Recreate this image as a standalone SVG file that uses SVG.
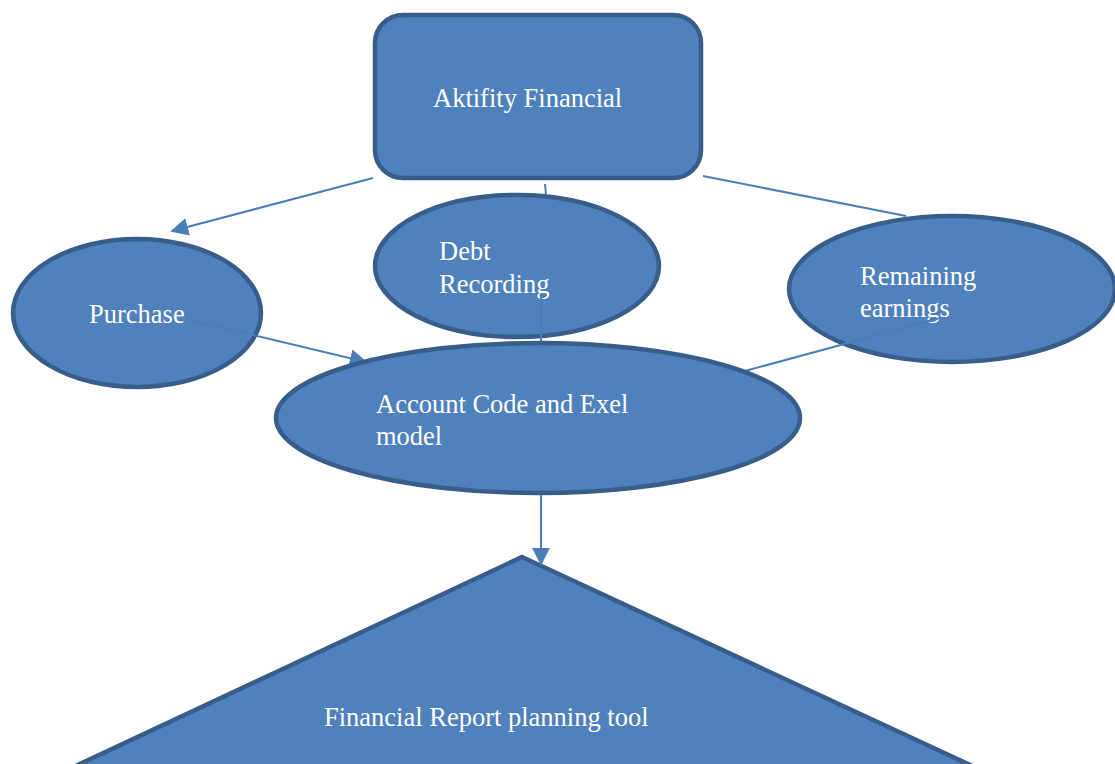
<svg xmlns="http://www.w3.org/2000/svg" width="1115" height="764" viewBox="0 0 1115 764">
  <style>
    .shape { fill: #4f81bd; stroke: #385d8a; stroke-width: 4.5; }
    .label { font-family: "Liberation Serif", "Times New Roman", serif; font-size: 26.5px; fill: #ffffff; }
    .link { stroke: #4a7ebb; stroke-width: 2; fill: none; }
  </style>
  <defs>
    <marker id="arrowL" viewBox="0 0 10 10" refX="9" refY="5" markerWidth="18" markerHeight="18" markerUnits="userSpaceOnUse" orient="auto">
      <path d="M0,0 L10,5 L0,10 z" fill="#4a7ebb"/>
    </marker>
  </defs>
  <rect width="1115" height="764" fill="#ffffff"/>

  <g id="node-report">
    <polygon class="shape" points="522,557 981,770 67,770"/>
    <text class="label" x="324" y="726">Financial Report planning tool</text>
  </g>

  <g id="node-purchase">
    <ellipse class="shape" cx="137" cy="313" rx="124" ry="74"/>
    <text class="label" x="89" y="323">Purchase</text>
  </g>

  <g id="node-remaining">
    <ellipse class="shape" cx="952" cy="289" rx="163" ry="73"/>
    <text class="label" x="860" y="285">Remaining</text>
    <text class="label" x="860" y="317">earnings</text>
  </g>

  <g id="node-debt">
    <ellipse class="shape" cx="517" cy="266" rx="142" ry="71"/>
    <text class="label" x="439" y="260">Debt</text>
    <text class="label" x="439" y="293">Recording</text>
  </g>

  <g id="connectors">
    <line class="link" x1="373" y1="178" x2="172" y2="231" marker-end="url(#arrowL)"/>
    <line class="link" x1="545" y1="184" x2="546" y2="195"/>
    <line class="link" x1="541" y1="297" x2="541" y2="343"/>
    <line class="link" x1="190" y1="320" x2="366" y2="362" marker-end="url(#arrowL)"/>
    <line class="link" x1="703" y1="176" x2="906" y2="216"/>
    <line class="link" x1="745" y1="371" x2="940" y2="318"/>
    <line class="link" x1="541" y1="488" x2="541" y2="564" marker-end="url(#arrowL)"/>
  </g>

  <g id="node-account">
    <ellipse class="shape" cx="538" cy="418" rx="262" ry="75"/>
    <text class="label" x="376" y="413">Account Code and Exel</text>
    <text class="label" x="376" y="445">model</text>
  </g>

  <g id="node-aktifity">
    <rect class="shape" x="375" y="15" width="326" height="163" rx="28" ry="28"/>
    <text class="label" x="433" y="107">Aktifity Financial</text>
  </g>
</svg>
